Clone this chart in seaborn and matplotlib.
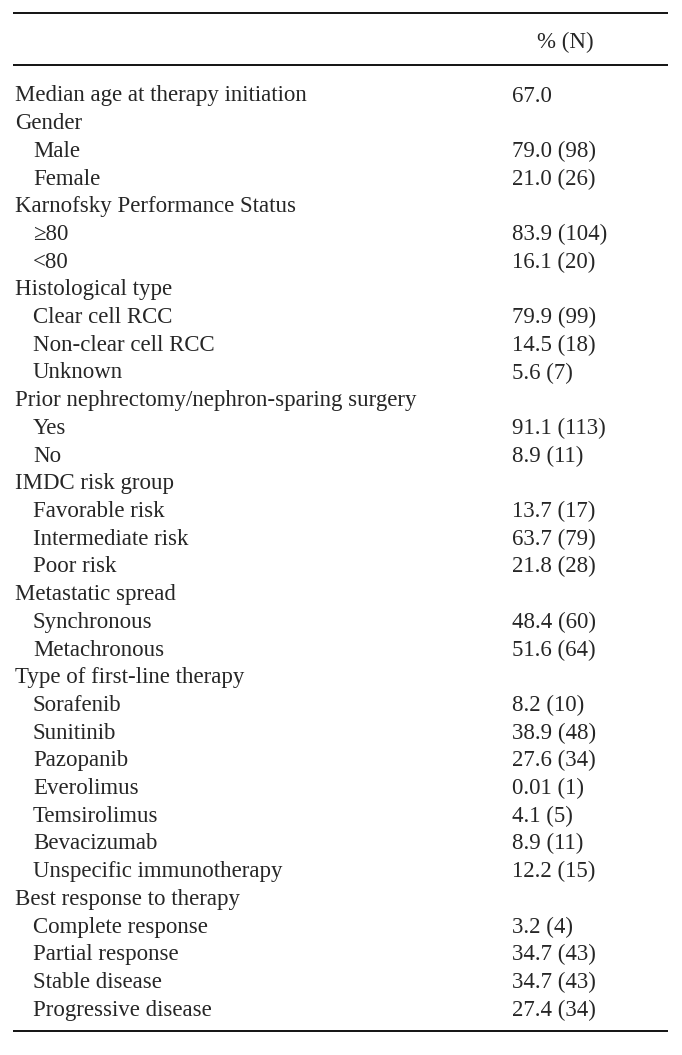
import matplotlib
matplotlib.use("Agg")
import matplotlib.pyplot as plt
import seaborn as sns

# table contents: (label, value, indented)
labels = [
    "Median age at therapy initiation",
    "Gender", "Male", "Female",
    "Karnofsky Performance Status", "≥80", "<80",
    "Histological type", "Clear cell RCC", "Non-clear cell RCC", "Unknown",
    "Prior nephrectomy/nephron-sparing surgery", "Yes", "No",
    "IMDC risk group", "Favorable risk", "Intermediate risk", "Poor risk",
    "Metastatic spread", "Synchronous", "Metachronous",
    "Type of first-line therapy", "Sorafenib", "Sunitinib", "Pazopanib",
    "Everolimus", "Temsirolimus", "Bevacizumab", "Unspecific immunotherapy",
    "Best response to therapy", "Complete response", "Partial response",
    "Stable disease", "Progressive disease",
]
values = [
    "67.0",
    "", "79.0 (98)", "21.0 (26)",
    "", "83.9 (104)", "16.1 (20)",
    "", "79.9 (99)", "14.5 (18)", "5.6 (7)",
    "", "91.1 (113)", "8.9 (11)",
    "", "13.7 (17)", "63.7 (79)", "21.8 (28)",
    "", "48.4 (60)", "51.6 (64)",
    "", "8.2 (10)", "38.9 (48)", "27.6 (34)",
    "0.01 (1)", "4.1 (5)", "8.9 (11)", "12.2 (15)",
    "", "3.2 (4)", "34.7 (43)", "34.7 (43)", "27.4 (34)",
]
indented = [
    False,
    False, True, True,
    False, True, True,
    False, True, True, True,
    False, True, True,
    False, True, True, True,
    False, True, True,
    False, True, True, True, True, True, True, True,
    False, True, True, True, True,
]
header = "% (N)"

sns.set_style("white")
plt.rcParams["font.family"] = ["Liberation Serif", "DejaVu Serif"]

fig = plt.figure(figsize=(6.82, 10.55), dpi=100)
ax = fig.add_axes([0, 0, 1, 1])
ax.set_xlim(0, 682)
ax.set_ylim(1055, 0)
ax.axis("off")

fs = 16.5
y0, dy = 96, 27.7
for i, (lab, val, ind) in enumerate(zip(labels, values, indented)):
    y = y0 + i * dy
    ax.text(33 if ind else 15, y, lab, fontsize=fs, va="center", ha="left")
    if val:
        ax.text(512, y, val, fontsize=fs, va="center", ha="left")

ax.text(565, 42, header, fontsize=fs, va="center", ha="center")

ax.hlines([13, 65, 1031], 13, 668, color="black", linewidth=1.3)

fig.savefig("out.png", dpi=100)
